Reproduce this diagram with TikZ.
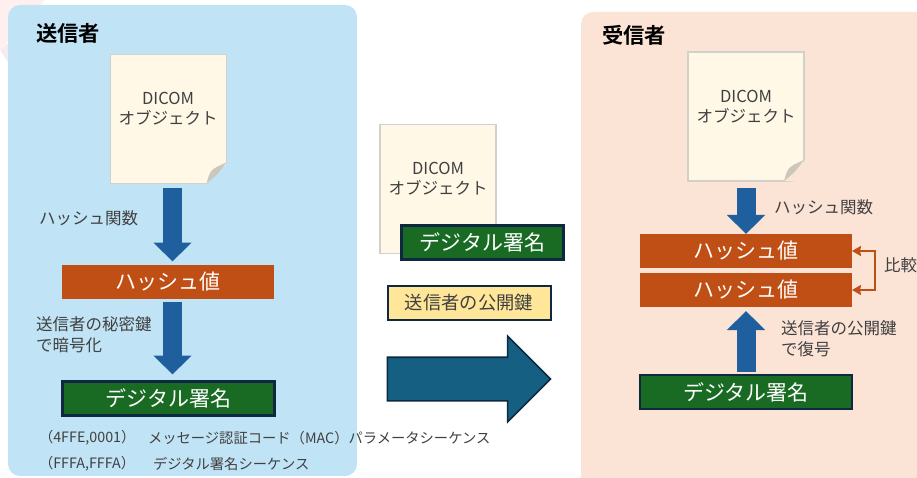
\documentclass[tikz,border=0pt]{standalone}
\usepackage{fontspec}
\setmainfont{Noto Sans CJK JP}[BoldFont={Noto Sans CJK JP Bold}]
\usetikzlibrary{arrows.meta,shapes.arrows}

\definecolor{srcbg}{HTML}{C0E4F5}
\definecolor{dstbg}{HTML}{FBE3D6}
\definecolor{notefill}{HTML}{FFF8E7}
\definecolor{noteedge}{HTML}{D2D0CA}
\definecolor{foldfill}{HTML}{CBC7BC}
\definecolor{hashfill}{HTML}{C04F15}
\definecolor{signfill}{HTML}{196B24}
\definecolor{signedge}{HTML}{0E2841}
\definecolor{keyfill}{HTML}{FFE699}
\definecolor{flowblue}{HTML}{1F5F9E}
\definecolor{bigblue}{HTML}{156082}
\definecolor{txt}{HTML}{404040}

\tikzset{
  note/.style={rectangle,fill=notefill,draw=noteedge,line width=1.8,minimum width=116,minimum height=129},
  notetxt/.style={align=center,text=txt,font=\fontsize{16.5}{20}\selectfont},
  hash/.style={rectangle,fill=hashfill,text=white,minimum width=212,minimum height=34,font=\fontsize{21}{22}\selectfont},
  sign/.style={rectangle,fill=signfill,draw=signedge,line width=2.2,text=white,minimum height=34,font=\fontsize{21}{22}\selectfont},
  pubkey/.style={rectangle,fill=keyfill,draw=signedge,line width=2,text=txt,minimum width=163,minimum height=34,font=\fontsize{18.3}{20}\selectfont},
  flow/.style={draw=flowblue,line width=19,-{Triangle[width=37,length=19]}},
  cmp/.style={draw=hashfill,line width=2.6,{Stealth[length=9,width=10,inset=1]}-{Stealth[length=9,width=10,inset=1]}},
  lbl/.style={anchor=west,align=left,text=txt,font=\fontsize{16.5}{21}\selectfont},
  tiny/.style={anchor=west,text=txt,font=\fontsize{14.3}{18}\selectfont},
  head/.style={anchor=west,font=\fontsize{21.3}{24}\selectfont\bfseries}
}

\begin{document}
\begin{tikzpicture}[x=1pt,y=-1pt,every node/.style={inner sep=0pt,outer sep=0pt}]
	\useasboundingbox (0,0) rectangle (917,478);

	% corner decoration
	\fill[pink!25] (0,0) -- (45,0) -- (0,50) -- cycle;
	\fill[violet!8] (0,50) -- (22,30) -- (8,62) -- cycle;

	% panels
	\begin{scope}
	  \clip (0,0) rectangle (917,478);
	  \fill[srcbg,rounded corners=12] (8,5) rectangle (357,476);
	  \fill[dstbg,rounded corners=12] (581,12) rectangle (940,500);
	\end{scope}
	\node (srctitle)[head] at (36,33) {送信者};
	\node (dsttitle)[head] at (602,35) {受信者};

	% documents
	\node (srcdoc)[note] at (168.5,119) {};
	\node (dstdoc)[note] at (746,116.5) {};
	\node (middoc)[note] at (438,189) {};
	\foreach \doc/\bg in {srcdoc/srcbg,dstdoc/dstbg}
	{
	  \fill[\bg] ([xshift=-20]\doc.south east) -- ([xshift=1.5,yshift=-1.5]\doc.south east) -- ([xshift=1.5,yshift=21]\doc.south east) -- cycle;
	  \fill[foldfill] ([xshift=-20]\doc.south east) .. controls ([xshift=-16,yshift=14]\doc.south east) .. ([yshift=21]\doc.south east) .. controls ([xshift=-9,yshift=9]\doc.south east) .. ([xshift=-20]\doc.south east);
	}
	\node (srcdoctxt)[notetxt] at (168,109) {DICOM\\オブジェクト};
	\node (dstdoctxt)[notetxt] at (746,107) {DICOM\\オブジェクト};
	\node (middoctxt)[notetxt] at (438,179) {DICOM\\オブジェクト};

	% boxes
	\node (srchash)[hash] at (168,281.5) {ハッシュ値};
	\node (srcsign)[sign,minimum width=212] at (168.5,398.5) {デジタル署名};
	\node (midsign)[sign,minimum width=162] at (482.5,242.5) {デジタル署名};
	\node (midkey)[pubkey] at (469,302.5) {送信者の公開鍵};
	\node (dsthash1)[hash] at (746,251) {ハッシュ値};
	\node (dsthash2)[hash] at (746,290) {ハッシュ値};
	\node (dstsign)[sign,minimum width=212] at (746,392) {デジタル署名};

	% transfer arrow
	\node (transfer)[single arrow,fill=bigblue,draw=signedge,line width=1.6,inner ysep=21,inner xsep=0,minimum height=163,minimum width=84,single arrow head extend=21,single arrow head indent=0] at (458,379) {};

	% flow arrows
	\draw[flow] ([xshift=4,yshift=-5]srcdoc.south) -- ([xshift=4.5,yshift=3]srchash.north);
	\draw[flow] ([xshift=4.5,yshift=-3]srchash.south) -- ([xshift=4,yshift=7]srcsign.north);
	\draw[flow] ([yshift=-7]dstdoc.south) -- (dsthash1.north);
	\draw[flow] ([yshift=3]dstsign.north) -- ([yshift=-4]dsthash2.south);
	\draw[cmp] (dsthash1.east) -- ++(23,0) |- (dsthash2.east);

	% labels
	\node (srcfunc)[lbl] at (39,218) {ハッシュ関数};
	\node (srcenc)[lbl] at (36,335) {送信者の秘密鍵\\で暗号化};
	\node (dstfunc)[lbl] at (774,207) {ハッシュ関数};
	\node (dstdec)[lbl] at (781,339) {送信者の公開鍵\\で復号};
	\node (cmplbl)[lbl] at (884,265) {比較};

	\node (tag1)[tiny] at (39,438) {（4FFE,0001）};
	\node (seq1)[tiny] at (148,438) {メッセージ認証コード（MAC）パラメータシーケンス};
	\node (tag2)[tiny] at (39,464) {（FFFA,FFFA）};
	\node (seq2)[tiny] at (153,464) {デジタル署名シーケンス};
\end{tikzpicture}
\end{document}
